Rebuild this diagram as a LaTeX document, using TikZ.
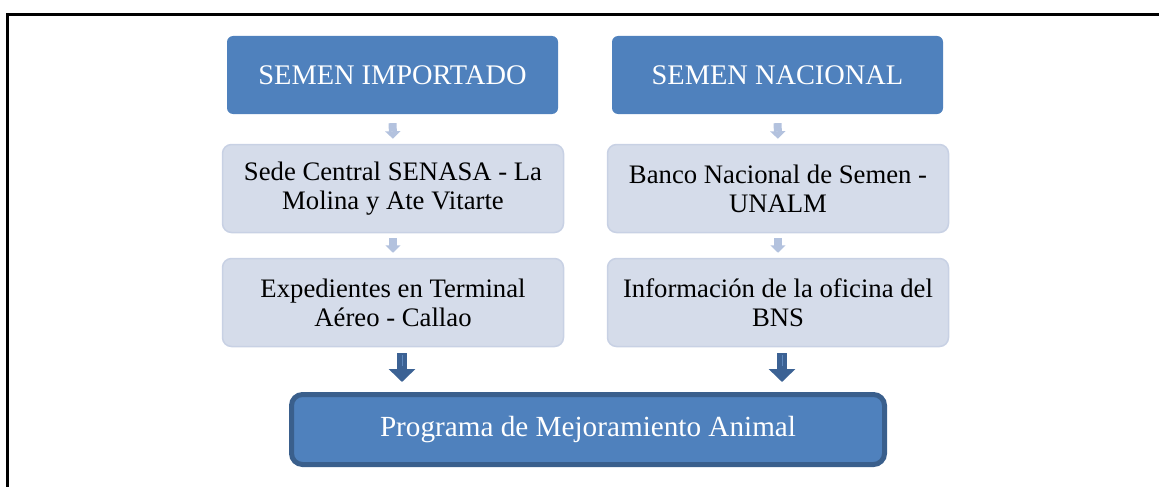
\documentclass[tikz,border=0pt]{standalone}
\usepackage{fontspec}
\setmainfont{Liberation Serif}
\usetikzlibrary{arrows.meta}
\definecolor{topblue}{HTML}{4F81BD}
\definecolor{midfill}{HTML}{D5DCEA}
\definecolor{midline}{HTML}{C8D1E4}
\definecolor{smallarr}{HTML}{B3C2DE}
\definecolor{darkarr}{HTML}{3C6294}
\definecolor{progline}{HTML}{3A5F8C}
\definecolor{shaftlight}{HTML}{5F88BD}
\begin{document}
\begin{tikzpicture}[x=1pt,y=-1pt,
  topbox/.style={fill=topblue, draw=none, rounded corners=6pt, text=white,
    font=\fontsize{28.4}{31}\selectfont, minimum width=331pt, minimum height=78pt,
    inner sep=0pt, align=center},
  midbox/.style={fill=midfill, draw=midline, line width=1.5pt, rounded corners=9pt,
    text=black, font=\fontsize{26.7}{29}\selectfont, minimum width=341pt,
    minimum height=88pt, inner sep=0pt, align=center},
  progbox/.style={fill=topblue, draw=progline, line width=5pt, rounded corners=11pt,
    text=white, font=\fontsize{29.2}{32}\selectfont, minimum width=593pt,
    minimum height=70pt, inner sep=0pt, align=center},
  smallarrow/.style={draw=smallarr, line width=8pt,
    -{Triangle[width=15pt,length=7.5pt]}, shorten <=5pt, shorten >=5pt},
  toparrow/.style={smallarrow, shorten <=9pt},
  bigarrow/.style={draw=darkarr, line width=10pt,
    -{Triangle[width=26pt,length=13pt]}, shorten <=6pt, shorten >=10pt},
  frameline/.style={draw=black, line width=3pt}
]
\useasboundingbox (0,0) rectangle (1159,487);
\coordinate (fb) at (7,488);
\coordinate (fr) at (1160,15);
\draw[frameline] (fb) |- (fr);

\node[topbox] (t1) at (392.5,75) {SEMEN IMPORTADO};
\node[topbox] (t2) at (777.5,75) {SEMEN NACIONAL};

\node[midbox] (a1) at (393,188.5) {Sede Central SENASA - La\\Molina y Ate Vitarte};
\node[midbox] (a2) at (393,302.5) {Expedientes en Terminal\\A\'ereo - Callao};
\node[midbox] (b1) at (778,188.5) {Banco Nacional de Semen -\\UNALM};
\node[midbox] (b2) at (778,302.5) {Informaci\'on de la oficina del\\BNS};

\node[progbox] (p) at (588,429.5) {Programa de Mejoramiento Animal};

\draw[toparrow] (t1.south) -- (a1.north);
\draw[smallarrow] (a1.south) -- (a2.north);
\draw[toparrow] (t2.south) -- (b1.north);
\draw[smallarrow] (b1.south) -- (b2.north);

\draw[bigarrow] ([xshift=9pt]a2.south) -- ([xshift=9pt]a2.south |- p.north);
\draw[bigarrow] ([xshift=4pt]b2.south) -- ([xshift=4pt]b2.south |- p.north);
\draw[draw=shaftlight, line width=1pt, shorten <=8pt, shorten >=26pt]
  ([xshift=9pt]a2.south) -- ([xshift=9pt]a2.south |- p.north);
\draw[draw=shaftlight, line width=1pt, shorten <=8pt, shorten >=26pt]
  ([xshift=4pt]b2.south) -- ([xshift=4pt]b2.south |- p.north);
\end{tikzpicture}
\end{document}
